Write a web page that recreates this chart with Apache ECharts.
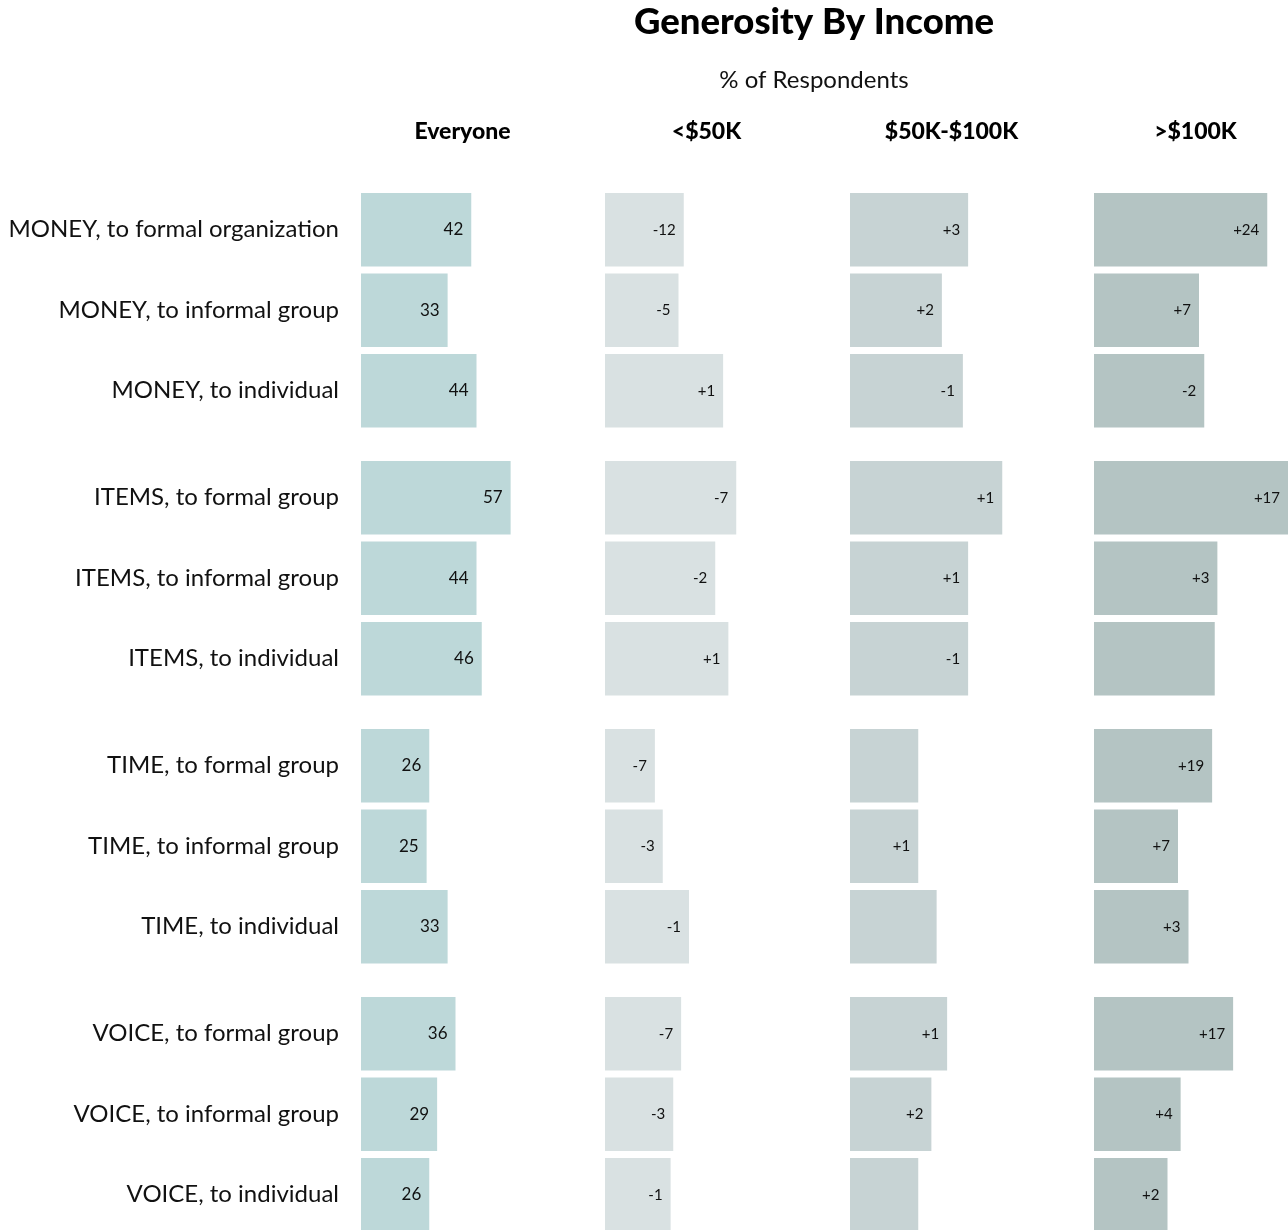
<!DOCTYPE html>
<html>
<head>
<meta charset="utf-8">
<script src="https://cdn.jsdelivr.net/npm/echarts@6/dist/echarts.min.js"></script>
<style>
  html, body { margin: 0; padding: 0; background: #fff; }
  #chart { width: 1288px; height: 1230px; }
</style>
</head>
<body>
<div id="chart"></div>
<script>
// rows, grouped by 3
var groups = [
  ['MONEY, to formal organization', 'MONEY, to informal group', 'MONEY, to individual'],
  ['ITEMS, to formal group', 'ITEMS, to informal group', 'ITEMS, to individual'],
  ['TIME, to formal group', 'TIME, to informal group', 'TIME, to individual'],
  ['VOICE, to formal group', 'VOICE, to informal group', 'VOICE, to individual']
];
var columns = ['Everyone', '<$50K', '$50K-$100K', '>$100K'];

// % of respondents, everyone
var everyone = [42, 33, 44, 57, 44, 46, 26, 25, 33, 36, 29, 26];
// difference vs everyone, per income band
var diffLow  = [-12, -5, 1, -7, -2, 1, -7, -3, -1, -7, -3, -1];
var diffMid  = [3, 2, -1, 1, 1, -1, 0, 1, 0, 1, 2, 0];
var diffHigh = [24, 7, -2, 17, 3, 0, 19, 7, 3, 17, 4, 2];

var colColors = ['#bdd8d9', '#d9e1e2', '#c7d3d4', '#b4c4c3'];
var colDiffs = [null, diffLow, diffMid, diffHigh];

var FONT = 'Lato';
var colLeft = [361, 605, 850, 1094];
var colWidth = 241.5, colMax = 92;   // 2.625 px per percent
var groupTop = 189.5, groupStep = 268, groupHeight = 241.5;

var grids = [], xAxes = [], yAxes = [], series = [];
var idx = 0;
for (var c = 0; c < 4; c++) {
  // last column runs off the page: shrink the grid, keep the scale
  var w = Math.min(colWidth, 1288 - colLeft[c]);
  for (var g = 0; g < 4; g++) {
    grids.push({
      left: colLeft[c], width: w,
      top: groupTop + g * groupStep, height: groupHeight,
      outerBoundsMode: 'none', containLabel: false
    });
    xAxes.push({
      gridIndex: idx, type: 'value', min: 0, max: colMax * w / colWidth, show: false
    });
    yAxes.push({
      gridIndex: idx, type: 'category', inverse: true,
      data: groups[g],
      axisLine: { show: false }, axisTick: { show: false }, splitLine: { show: false },
      axisLabel: {
        show: c === 0, margin: 22,
        fontFamily: FONT, fontSize: 24, color: '#111'
      }
    });
    var vals = [];
    for (var r = 0; r < 3; r++) {
      var i = g * 3 + r;
      vals.push(c === 0 ? everyone[i] : everyone[i] + colDiffs[c][i]);
    }
    (function (c, g) {
      series.push({
        type: 'bar', xAxisIndex: idx, yAxisIndex: idx,
        data: vals,
        barCategoryGap: '8.7%',
        itemStyle: { color: colColors[c] },
        silent: true,
        label: {
          show: true, position: 'insideRight', distance: 8,
          fontFamily: FONT, fontSize: c === 0 ? 17 : 15, color: '#111',
          formatter: function (p) {
            if (c === 0) return p.value;
            var d = colDiffs[c][g * 3 + p.dataIndex];
            if (d === 0) return '';
            return d > 0 ? '+' + d : String(d);
          }
        }
      });
    })(c, g);
    idx++;
  }
}

var graphics = [
  { type: 'text', style: { x: 814, y: 22, text: 'Generosity By Income', textAlign: 'center', textVerticalAlign: 'middle',
      fontFamily: FONT, fontSize: 36.5, fontWeight: 900, fill: '#000' } },
  { type: 'text', style: { x: 814, y: 80, text: '% of Respondents', textAlign: 'center', textVerticalAlign: 'middle',
      fontFamily: FONT, fontSize: 24, fill: '#111' } }
];
columns.forEach(function (name, c) {
  graphics.push({ type: 'text', style: { x: colLeft[c] + 101.5, y: 132, text: name, textAlign: 'center', textVerticalAlign: 'middle',
      fontFamily: FONT, fontSize: 23, fontWeight: 900, fill: '#000' } });
});

var chart = echarts.init(document.getElementById('chart'));
chart.setOption({
  backgroundColor: '#fff',
  animation: false,
  grid: grids,
  xAxis: xAxes,
  yAxis: yAxes,
  series: series,
  graphic: graphics
});
</script>
</body>
</html>
